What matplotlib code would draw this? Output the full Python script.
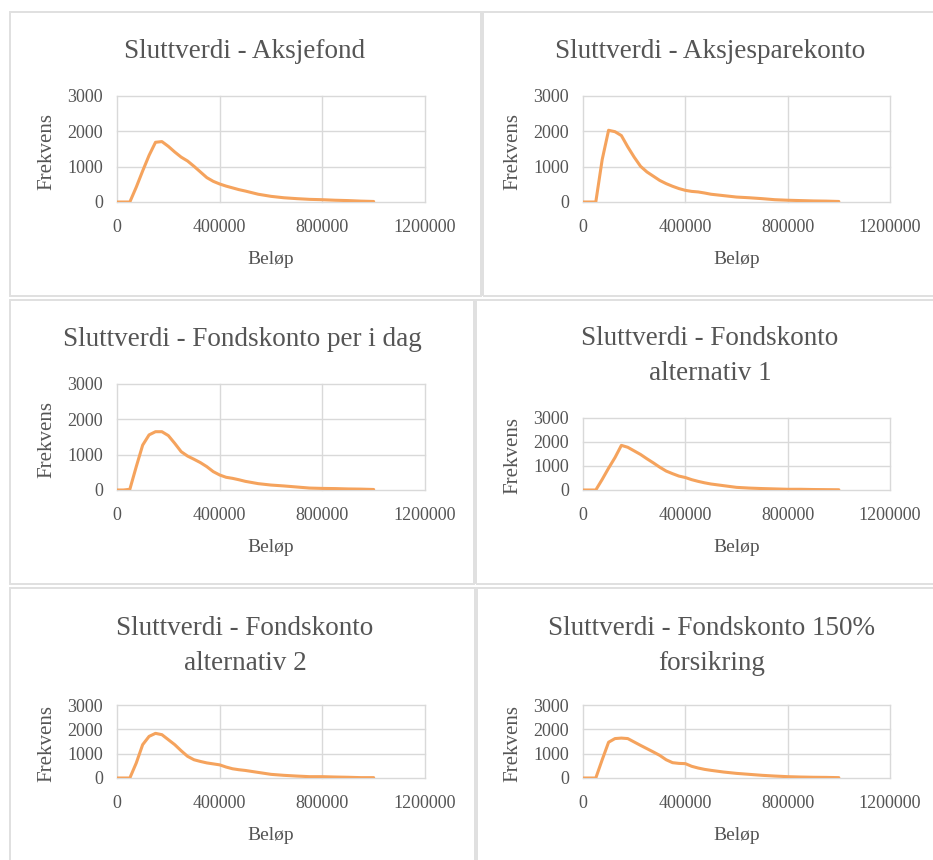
import matplotlib.pyplot as plt
from matplotlib.patches import Rectangle

plt.rcParams['font.family'] = ['Liberation Serif', 'DejaVu Serif']

# Beløp (bin values) shared by all six series
belop = [0, 25000, 50000, 75000, 100000, 125000, 150000, 175000, 200000, 225000,
         250000, 275000, 300000, 325000, 350000, 375000, 400000, 425000, 450000,
         475000, 500000, 550000, 600000, 650000, 700000, 750000, 800000, 850000,
         900000, 950000, 1000000]

aksjefond = [0, 0, 0, 420, 880, 1320, 1690, 1710, 1575, 1415, 1270, 1160, 1010, 850,
             690, 585, 510, 450, 400, 350, 310, 220, 160, 120, 95, 75, 65, 50, 40, 25, 15]
aksjesparekonto = [0, 0, 0, 1200, 2030, 1990, 1880, 1560, 1270, 1010, 850, 730, 610, 520,
                   445, 380, 330, 300, 285, 255, 220, 180, 140, 120, 95, 65, 50, 40, 30, 25, 15]
fondskonto_idag = [0, 0, 20, 660, 1270, 1560, 1650, 1650, 1540, 1320, 1085, 960, 870, 775,
                   660, 520, 425, 360, 330, 290, 245, 180, 140, 115, 85, 55, 45, 40, 30, 25, 15]
alternativ1 = [0, 0, 0, 440, 910, 1350, 1860, 1780, 1630, 1480, 1300, 1130, 950, 790,
               680, 580, 520, 430, 360, 300, 250, 180, 110, 80, 60, 45, 30, 30, 20, 15, 10]
alternativ2 = [0, 0, 0, 615, 1370, 1710, 1835, 1780, 1575, 1370, 1120, 890, 750, 680,
               620, 580, 540, 450, 380, 340, 310, 230, 150, 110, 80, 55, 55, 40, 30, 15, 15]
forsikring = [0, 0, 0, 750, 1470, 1620, 1640, 1620, 1480, 1340, 1205, 1070, 930, 750,
              630, 600, 590, 480, 410, 355, 315, 245, 190, 150, 110, 80, 55, 40, 30, 25, 15]

titles = ["Sluttverdi - Aksjefond",
          "Sluttverdi - Aksjesparekonto",
          "Sluttverdi - Fondskonto per i dag",
          "Sluttverdi - Fondskonto\nalternativ 1",
          "Sluttverdi - Fondskonto\nalternativ 2",
          "Sluttverdi - Fondskonto 150%\nforsikring"]
series = [aksjefond, aksjesparekonto, fondskonto_idag, alternativ1, alternativ2, forsikring]

x_ticks = [0, 400000, 800000, 1200000]
y_ticks = [0, 1000, 2000, 3000]

W, H = 933, 860
TEXT = '#555555'
GRID = '#d9d9d9'
LINE = '#f5a35d'

# layout in pixels: chart box, plot area (left, top, right, bottom), title centre
boxes = [(10, 12, 481, 296), (483, 12, 940, 296),
         (10, 300, 474, 584), (476, 300, 940, 584),
         (10, 588, 475, 868), (477, 588, 940, 868)]
areas = [(117, 96, 425, 202), (583, 96, 890, 202),
         (117, 384, 425, 490), (583, 418, 890, 490),
         (117, 705, 425, 778), (583, 705, 890, 778)]
title_pos = [(245, 52), (710, 52), (242, 340), (710, 356), (245, 646), (712, 646)]

fig = plt.figure(figsize=(W / 100, H / 100), dpi=100)
fig.patch.set_facecolor('white')


def fx(px):
    return px / W


def fy(py):
    return 1 - py / H


for i in range(6):
    x0, y0, x1, y1 = boxes[i]
    fig.patches.append(Rectangle((fx(x0), fy(y1)), fx(x1) - fx(x0), fy(y0) - fy(y1),
                                 transform=fig.transFigure, fill=False,
                                 edgecolor='#e0e0e0', lw=1.4))

    l, t, r, b = areas[i]
    ax = fig.add_axes([fx(l), fy(b), fx(r) - fx(l), fy(t) - fy(b)])
    ax.plot(belop, series[i], color=LINE, lw=2.2, solid_joinstyle='round',
            solid_capstyle='round', zorder=3)
    ax.set_xlim(0, 1200000)
    ax.set_ylim(0, 3000)
    ax.set_xticks(x_ticks)
    ax.set_xticklabels([str(v) for v in x_ticks])
    ax.set_yticks(y_ticks)
    ax.set_yticklabels([str(v) for v in y_ticks])
    ax.tick_params(length=0, labelsize=13, labelcolor=TEXT)
    ax.tick_params(axis='x', pad=12)
    ax.tick_params(axis='y', pad=10)
    for s in ax.spines.values():
        s.set_visible(False)
    ax.grid(True, color=GRID, lw=1.0)
    for gl in ax.get_xgridlines() + ax.get_ygridlines():
        gl.set_clip_on(False)
    ax.set_axisbelow(True)

    cx, cy = title_pos[i]
    fig.text(fx(cx), fy(cy), titles[i], ha='center', va='center', fontsize=19.5,
             color=TEXT, linespacing=1.52)
    fig.text(fx(l - 70), fy((t + b) / 2 + 2), 'Frekvens', rotation=90, ha='center',
             va='center', fontsize=15, color=TEXT)
    fig.text(fx((l + r) / 2), fy(b + 57), 'Beløp', ha='center', va='center',
             fontsize=14, color=TEXT)

fig.savefig('out.png', dpi=100, facecolor='white')
